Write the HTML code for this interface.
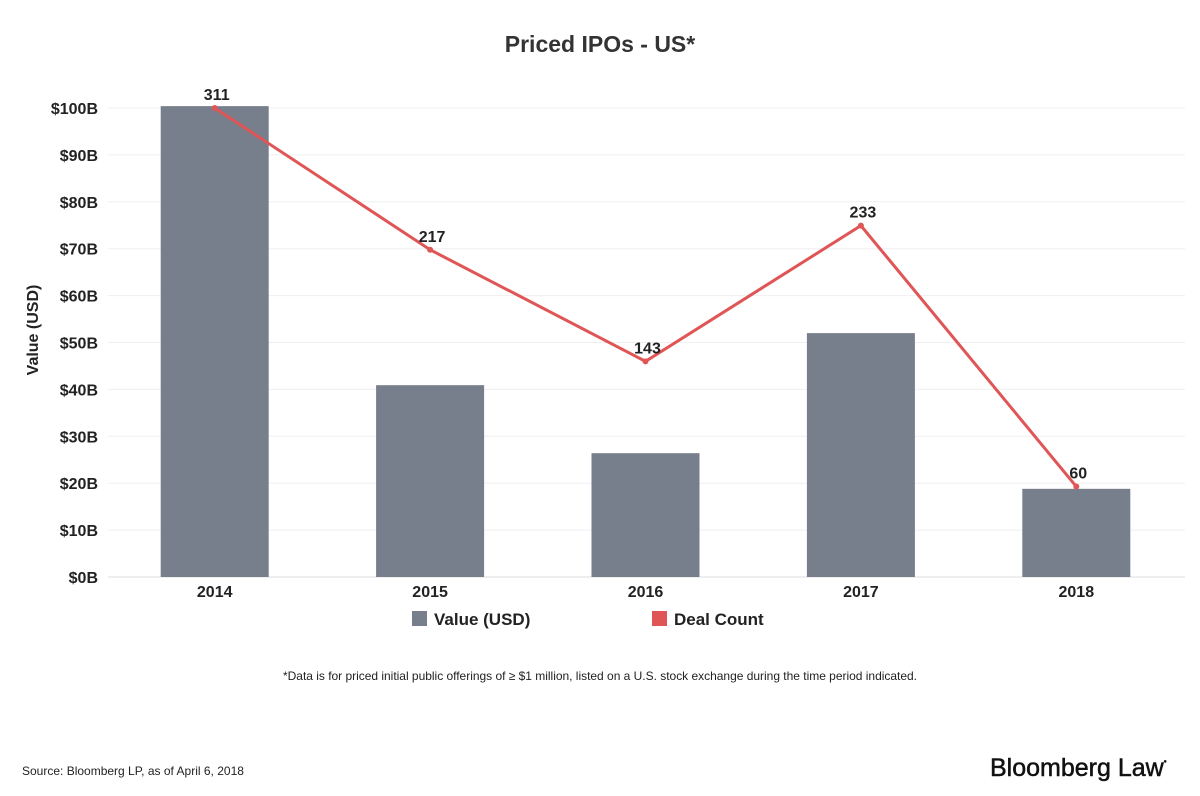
<!DOCTYPE html>
<html><head><meta charset="utf-8"><style>
body{margin:0;background:#fff;font-family:"Liberation Sans",Arial,sans-serif;}
svg{display:block}
</style></head><body>
<svg id="chart" width="1200" height="796" xmlns="http://www.w3.org/2000/svg">
<text x="600" y="52" text-anchor="middle" font-size="23" font-weight="bold" fill="#333">Priced IPOs - US*</text>
<g id="grid"></g><g id="yticks"></g><g id="bars"></g><g id="line"></g><g id="xticks"></g>
<text transform="translate(38,330) rotate(-90)" text-anchor="middle" font-size="16" font-weight="bold" fill="#222">Value (USD)</text>
<g>
<rect x="412" y="611" width="15" height="15" fill="#777e8c"/>
<text x="434" y="625" font-size="17" font-weight="bold" fill="#222">Value (USD)</text>
<rect x="652" y="611" width="15" height="15" fill="#e05555"/>
<text x="674" y="625" font-size="17" font-weight="bold" fill="#222">Deal Count</text>
</g>
<text x="600" y="680" text-anchor="middle" font-size="12" textLength="634" fill="#222">*Data is for priced initial public offerings of ≥ $1 million, listed on a U.S. stock exchange during the time period indicated.</text>
<text x="22" y="775" font-size="12" fill="#222">Source: Bloomberg LP, as of April 6, 2018</text>
<text x="990" y="776" font-size="25" fill="#111" stroke="#111" stroke-width="0.5">Bloomberg Law<tspan font-size="8" dy="-12">•</tspan></text>
</svg>
<script>
const categories=["2014","2015","2016","2017","2018"];
const values=[100.4,40.9,26.4,52,18.8];
const dealCounts=[311,217,143,233,60];
const yTickLabels=["$0B","$10B","$20B","$30B","$40B","$50B","$60B","$70B","$80B","$90B","$100B"];
const yTickValues=[0,10,20,30,40,50,60,70,80,90,100];
const NS="http://www.w3.org/2000/svg";
const y0=577,yTop=108,left=108,right=1185;
const yScale=v=>y0-(v/100)*(y0-yTop);
const y2Scale=c=>y0-(c/311)*(y0-yTop);
const band=(right-left)/categories.length;
const xScale=i=>left+band*(i+0.5)-1;
function mk(tag,attrs,parent){const e=document.createElementNS(NS,tag);for(const k in attrs)e.setAttribute(k,attrs[k]);parent.appendChild(e);return e;}
const grid=document.getElementById('grid'),yt=document.getElementById('yticks'),bars=document.getElementById('bars'),line=document.getElementById('line'),xt=document.getElementById('xticks');
yTickValues.forEach((v,i)=>{
 const g=mk('line',{x1:left,x2:right,y1:yScale(v),y2:yScale(v),stroke:v===0?'#ddd':'#efeff2','stroke-width':1},grid);
 
 
 const t=mk('text',{x:98,y:yScale(v)+6,'text-anchor':'end','font-size':16,'font-weight':'bold',fill:'#222'},yt);
 t.textContent=yTickLabels[i];
 
 
});
const bw=108;
categories.forEach((c,i)=>{
 const r=mk('rect',{x:xScale(i)-bw/2,y:yScale(values[i]),width:bw,height:y0-yScale(values[i]),fill:'#777e8c'},bars);
 
 
 const t=mk('text',{x:xScale(i),y:597,'text-anchor':'middle','font-size':16,'font-weight':'bold',fill:'#222'},xt);
 t.textContent=c;
 
 
});
const pts=dealCounts.map((d,i)=>xScale(i)+','+y2Scale(d)).join(' ');
const pl=mk('polyline',{points:pts,fill:'none',stroke:'#e05555','stroke-width':3},line);


dealCounts.forEach((d,i)=>{
 const c=mk('circle',{cx:xScale(i),cy:y2Scale(d),r:3,fill:'#e05555'},line);
 
 
 const t=mk('text',{x:xScale(i)+2,y:y2Scale(d)-8,'text-anchor':'middle','font-size':16,'font-weight':'bold',fill:'#222'},line);
 t.textContent=d;
 
 
});
</script>
</body></html>
